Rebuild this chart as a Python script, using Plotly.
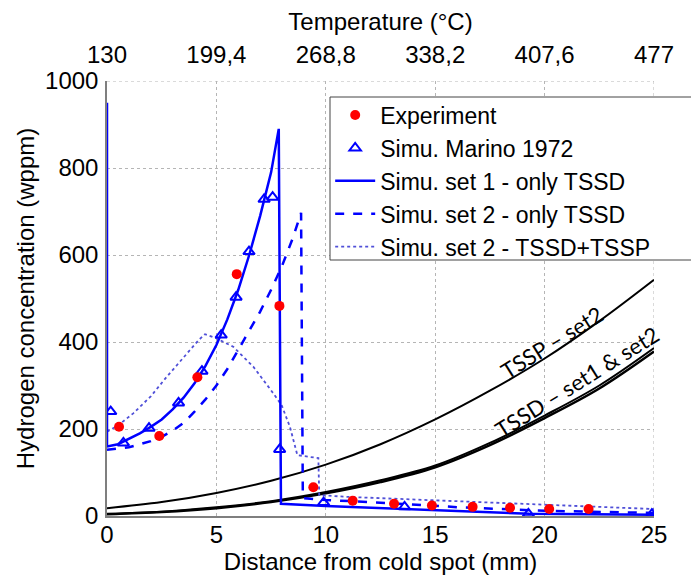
import plotly.graph_objects as go

# ---------------- data ----------------
exp_x = [0.55, 2.39, 4.13, 5.93, 7.88, 9.43, 11.23, 13.12, 14.85, 16.71, 18.42, 20.21, 22.01]
exp_y = [205, 184, 319, 556, 483, 66, 35, 28, 24, 21, 19, 16, 16]

marino_x = [0.17, 0.75, 1.92, 3.27, 4.34, 5.22, 5.90, 6.49, 7.18, 7.57, 7.89, 9.90, 13.6, 19.26, 24.9]
marino_y = [240, 168, 202, 260, 333, 416, 503, 608, 728, 733, 153, 31, 21, 5, 4]

set1_x = [0, 0, 0.5, 1, 1.5, 2, 2.5, 3, 3.5, 4, 4.5, 5, 5.5, 6, 6.5, 7, 7.5, 7.85,
          7.95, 10, 13.6, 16, 19.3, 25]
set1_y = [950, 160, 165, 178, 190, 205, 222, 245, 272, 305, 345, 393, 452, 520, 600, 690, 790, 890,
          28, 23, 16, 11, 5, 3]

set2_x = [0, 1, 2, 2.5, 3, 3.5, 4, 4.5, 5, 5.5, 6, 6.5, 7, 7.5, 8, 8.5, 8.87,
          8.95, 10, 13.1, 16.1, 20, 25]
set2_y = [152, 158, 172, 182, 196, 214, 240, 268, 300, 338, 382, 425, 470, 520, 575, 640, 697,
          41, 37, 29, 20, 12, 7]

set2p_x = [0, 0.5, 1.2, 2, 2.73, 3.3, 3.79, 4.2, 4.48, 5.01, 5.77, 6.69, 7.6, 7.98, 8.36, 8.7,
           9.66, 9.7, 11, 13, 16, 19, 22, 25]
set2p_y = [194, 208, 236, 275, 320, 352, 381, 405, 418, 408, 389, 343, 282, 255, 205, 140,
           133, 48, 44, 40, 35, 28, 22, 16]

sol_x = [0, 2.5, 5, 7.5, 10, 12.5, 15, 17.5, 20, 22.5, 25]
tssp2_y = [18, 32, 53, 81, 118, 165, 222, 288, 362, 448, 543]
tssd1_y = [5, 10, 20, 34, 55, 82, 116, 168, 231, 300, 386]
tssd2_y = [4, 9, 18, 32, 52, 78, 112, 163, 225, 293, 378]

x_ticks = [0, 5, 10, 15, 20, 25]
temp_labels = ["130", "199,4", "268,8", "338,2", "407,6", "477"]
y_ticks = [0, 200, 400, 600, 800, 1000]

FONT = "Liberation Sans, Arial, sans-serif"
BLUE = "#0000ff"
GRID = "#b5b5b5"

fig = go.Figure()

# black solubility curves (no legend)
for yy, w in [(tssp2_y, 2), (tssd1_y, 2), (tssd2_y, 2.5)]:
    fig.add_trace(go.Scatter(x=sol_x, y=yy, mode="lines", line=dict(color="black", width=w, shape="spline"),
                             showlegend=False, hoverinfo="skip"))

fig.add_trace(go.Scatter(x=set2p_x, y=set2p_y, mode="lines", name="Simu. set 2 - TSSD+TSSP",
                         line=dict(color="#5050d8", width=1.8, dash="dot"), legendrank=5))
fig.add_trace(go.Scatter(x=set2_x, y=set2_y, mode="lines", name="Simu. set 2 - only TSSD",
                         line=dict(color=BLUE, width=2.5, dash="dash"), legendrank=4))
fig.add_trace(go.Scatter(x=set1_x, y=set1_y, mode="lines", name="Simu. set 1 - only TSSD",
                         line=dict(color=BLUE, width=2.5), legendrank=3))
fig.add_trace(go.Scatter(x=marino_x, y=marino_y, mode="markers", name="Simu. Marino 1972",
                         marker=dict(symbol="triangle-up-open", size=10, color=BLUE, line=dict(width=2, color=BLUE)),
                         legendrank=2))
fig.add_trace(go.Scatter(x=exp_x, y=exp_y, mode="markers", name="Experiment",
                         marker=dict(symbol="circle", size=10, color="#ff0000"), legendrank=1))

# invisible trace for top temperature axis
fig.add_trace(go.Scatter(x=[0, 25], y=[0, 0], xaxis="x2", mode="markers",
                         marker=dict(opacity=0), showlegend=False, hoverinfo="skip"))

fig.update_layout(
    width=699, height=581,
    margin=dict(l=99, r=53, t=73, b=73),
    paper_bgcolor="white", plot_bgcolor="white",
    font=dict(family=FONT, size=24, color="black"),
    showlegend=True,
    legend=dict(x=0.408, y=0.971, xanchor="left", yanchor="top",
                bgcolor="rgba(0,0,0,0)", borderwidth=0,
                font=dict(family=FONT, size=23), tracegroupgap=0,
                itemwidth=40),
    xaxis=dict(range=[0, 25], tickvals=x_ticks, showgrid=True, gridcolor=GRID, griddash="dot",
               gridwidth=1, zeroline=False, showline=True, linecolor="#7f7f7f", linewidth=1.5,
               ticks="", tickfont=dict(size=24), automargin=False, ticklabelstandoff=-4,
               title=dict(text="Distance from cold spot (mm)", font=dict(size=24), standoff=0)),
    xaxis2=dict(range=[0, 25], overlaying="x", side="top", tickvals=x_ticks, ticktext=temp_labels,
                showgrid=False, zeroline=False, showline=False, ticks="", tickfont=dict(size=24),
                automargin=False, ticklabelstandoff=12,
                title=dict(text="Temperature (°C)", font=dict(size=24), standoff=8)),
    yaxis=dict(range=[0, 1000], tickvals=y_ticks, showgrid=True, gridcolor=GRID, griddash="dot",
               gridwidth=1, zeroline=False, showline=True, linecolor="#7f7f7f", linewidth=1.5,
               ticks="", tickfont=dict(size=24), automargin=False, ticklabelstandoff=2,
               title=dict(text="Hydrogen concentration (wppm)", font=dict(size=24), standoff=4)),
    shapes=[
        dict(type="line", xref="x", yref="y", x0=0, x1=25, y0=1000, y1=1000,
             line=dict(color=GRID, width=1, dash="dot"), layer="below"),
        dict(type="line", xref="x", yref="y", x0=25, x1=25, y0=0, y1=1000,
             line=dict(color=GRID, width=1, dash="dot"), layer="below"),
        # legend frame (wider than plotly's auto-sized legend box)
        dict(type="rect", xref="paper", yref="paper", x0=0.4077, x1=1.0786, y0=0.5885, y1=0.9632,
             fillcolor="white", line=dict(color="#444", width=1), layer="above"),
    ],
    annotations=[
        dict(x=20.3, y=400, xref="x", yref="y", text="TSSP – set2", showarrow=False, textangle=-32,
             font=dict(family="Lato, Open Sans, sans-serif", size=22, color="black")),
        dict(x=21.5, y=309, xref="x", yref="y", text="TSSD – set1 & set2", showarrow=False, textangle=-32,
             font=dict(family="Lato, Open Sans, sans-serif", size=22, color="black")),
    ],
)

fig.write_html("out.html")
